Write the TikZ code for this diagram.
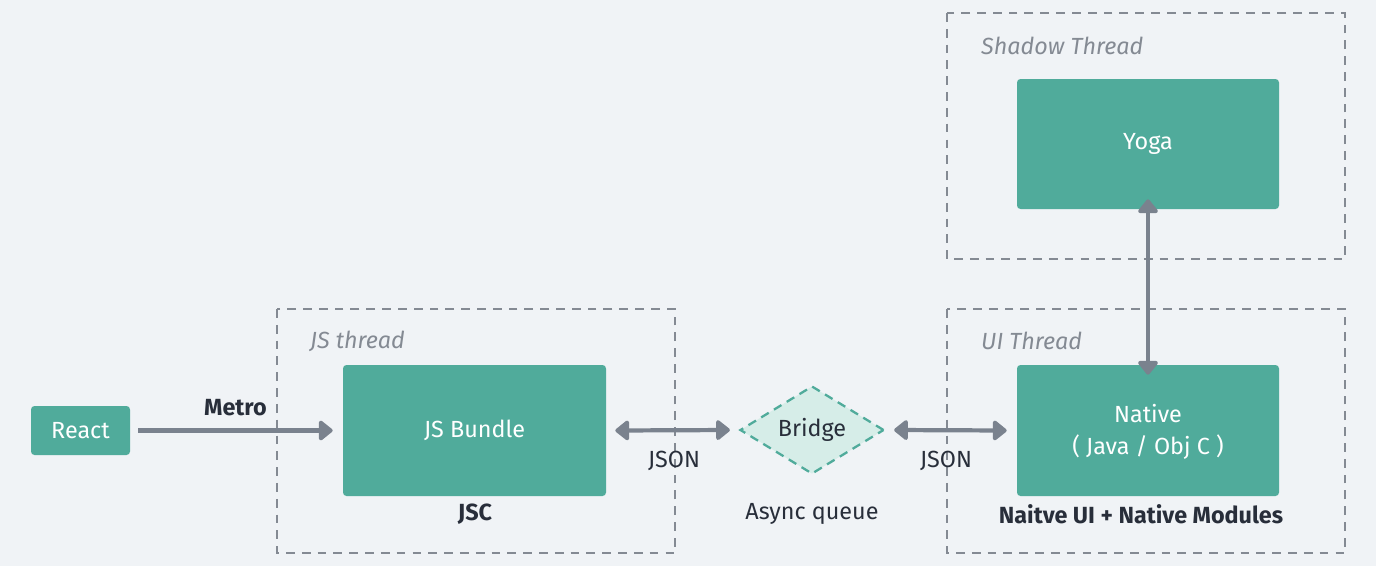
\documentclass[tikz,border=0pt]{standalone}
\usepackage{fontspec}
\setmainfont{Fira Sans}
\usetikzlibrary{arrows.meta,shapes.geometric}
\definecolor{bg}{RGB}{240,243,246}
\definecolor{teal}{RGB}{80,171,155}
\definecolor{lteal}{RGB}{214,237,232}
\definecolor{arr}{RGB}{122,130,142}
\definecolor{dk}{RGB}{40,46,58}
\definecolor{gbox}{RGB}{132,138,147}
\tikzset{
  fs/.style={font=\fontsize{13.3}{16}\selectfont},
  box/.style={fill=teal, rounded corners=2pt, text=white, fs, align=center, inner sep=0pt},
  thread/.style={draw=gbox, line width=1.1pt, dash pattern=on 5pt off 4pt},
  tlabel/.style={text=gbox, font=\fontsize{13.3}{16}\selectfont\itshape, anchor=west},
  lbl/.style={text=dk, fs},
  blbl/.style={text=dk, font=\fontsize{13.3}{16}\selectfont\bfseries},
  tip/.tip={Triangle[length=8.5pt,width=13pt,round]},
  conn/.style={draw=arr, line width=2.4pt, -tip},
  dconn/.style={draw=arr, line width=2.4pt, tip-tip},
}
\begin{document}
\begin{tikzpicture}[x=0.02cm,y=-0.02cm]
\fill[bg] (0,0) rectangle (1376,566);
\useasboundingbox (0,0) rectangle (1376,566);
% thread boxes
\draw[thread] (277,309) rectangle (675,553);
\draw[thread] (947,13) rectangle (1345,259);
\draw[thread] (947,309) rectangle (1345,553);
\node[tlabel] (tjs) at (304,341) {JS thread};
\node[tlabel] (tui) at (975,341) {UI Thread};
\node[tlabel] (tsh) at (975,46) {Shadow Thread};
% nodes
\node[box, minimum width=99*0.02cm, minimum height=49*0.02cm] (react) at (80.5,430.5) {React};
\node[box, minimum width=263*0.02cm, minimum height=131*0.02cm] (jsb) at (474.5,430.5) {JS Bundle};
\node[box, minimum width=262*0.02cm, minimum height=130*0.02cm] (yoga) at (1148,144) {Yoga};
\node[box, minimum width=262*0.02cm, minimum height=131*0.02cm] (native) at (1148,430.5) {};
\node[text=white, fs] (nat1) at (1148,414) {Native};
\node[text=white, fs] (nat2) at (1148,447) {( Java / Obj C )};
\node[diamond, fill=lteal, draw=teal, line width=1.3pt, dash pattern=on 5pt off 3.5pt, minimum width=144*0.02cm, minimum height=88*0.02cm, inner sep=0pt, aspect=1.64, text=dk, fs] (bridge) at (812,430) {Bridge};
% connectors
\draw[conn] ([xshift=8*0.02cm]react.east) -- node[blbl, above=4pt] (metro) {Metro} ([xshift=-10*0.02cm]jsb.west);
\draw[dconn] ([xshift=9*0.02cm]jsb.east) -- ([xshift=-9*0.02cm]bridge.west);
\draw[dconn] ([xshift=9*0.02cm]bridge.east) -- ([xshift=-10*0.02cm]native.west);
\draw[dconn] ([yshift=10*0.02cm]yoga.south) -- ([yshift=-10*0.02cm]native.north);
% labels
\node[lbl] (json1) at (674,461) {JSON};
\node[lbl] (json2) at (946,461) {JSON};
\node[blbl] (jsc) at (475,514) {JSC};
\node[lbl] (async) at (812,514) {Async queue};
\node[blbl] (nui) at (1141,514) {Naitve UI + Native Modules};
\end{tikzpicture}
\end{document}
